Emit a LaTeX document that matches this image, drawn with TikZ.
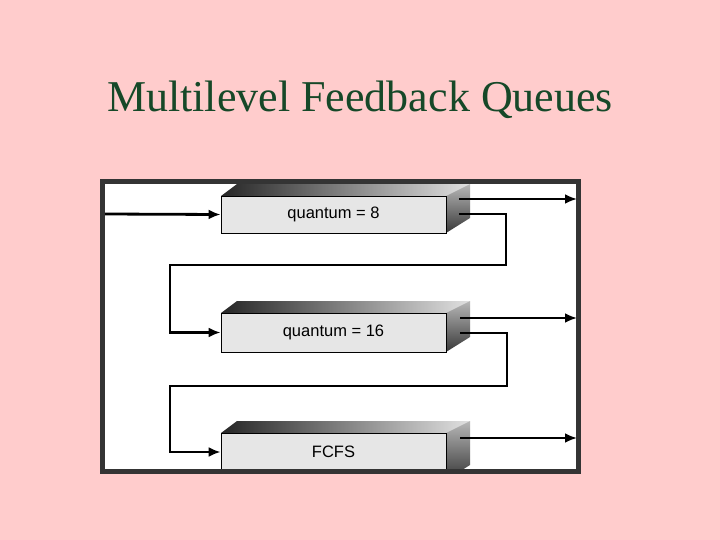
\documentclass[tikz,border=0pt]{standalone}
\usepackage{fontspec}
\setmainfont{Liberation Serif}
\newfontfamily\lsans{Liberation Sans}
\usetikzlibrary{arrows.meta}
\definecolor{bgpink}{RGB}{255,204,204}
\definecolor{titlegreen}{RGB}{22,72,40}
\definecolor{framegray}{RGB}{52,52,52}
\definecolor{facegray}{RGB}{230,230,230}
\tikzset{
  qfront/.style={draw=black, line width=0.8pt, fill=facegray, minimum width=225pt, inner sep=0pt, font=\lsans\fontsize{16.5}{18}\selectfont},
  conn/.style={line width=2.8pt, line join=miter},
  arr/.style={conn, -{Latex[length=12pt,width=10pt]}},
}
\newcommand\qdepth[3]{% #1 front top y, #2 front bottom y, #3 back bottom y
  \shade[left color=black!85, right color=black!12] (221,#1) -- (237,#1-12) -- (470,#1-12) -- (446,#1) -- cycle;
  \shade[top color=black!28, bottom color=black!78] (446,#1) -- (470,#1-12) -- (470,#3) -- (446,#2) -- cycle;
}
\begin{document}
\begin{tikzpicture}[x=1pt,y=-1pt]
\useasboundingbox (0,0) rectangle (720,540);
\fill[bgpink] (0,0) rectangle (720,540);
\node[anchor=base, text=titlegreen, font=\fontsize{44}{50}\selectfont, inner sep=0pt] (title) at (360,111.7) {Multilevel Feedback Queues};
% frame interior
\fill[white] (102.5,181.5) rectangle (578.5,471.5);
\begin{scope}
\clip (102.5,181.5) rectangle (578.5,471.5);
% box 1
\qdepth{196}{233}{218}
\node[qfront, minimum height=37pt] (q1) at (333.5,214.5) {quantum = 8};
% box 2
\qdepth{313}{352}{337}
\node[qfront, minimum height=39pt] (q2) at (333.5,332.5) {quantum = 16};
% box 3
\qdepth{433}{480}{465}
\node[qfront, minimum height=38pt] (q3) at (333.5,452) {FCFS};
\end{scope}
% named points
\coordinate (in) at (104,214);
\coordinate (o1) at (459,199);
\coordinate (f1) at (459,214);
\coordinate (o2) at (460,318);
\coordinate (f2) at (460,333);
\coordinate (o3) at (460,438);
\coordinate (e1) at (577,199);
\coordinate (e2) at (577,318);
\coordinate (e3) at (577,438);
% connectors
\draw[arr] (in) -- (q1.west);
\draw[arr] (o1) -- (e1);
\draw[arr] (f1) -- (506,214) -- (506,265) -- (170,265) -- (170,332.5) -- (q2.west);
\draw[arr] (o2) -- (e2);
\draw[arr] (f2) -- (507,333) -- (507,386) -- (170,386) -- (170,452) -- (q3.west);
\draw[arr] (o3) -- (e3);
% frame
\draw[framegray, line width=5pt] (102.5,181.5) rectangle (578.5,471.5);
\end{tikzpicture}
\end{document}
